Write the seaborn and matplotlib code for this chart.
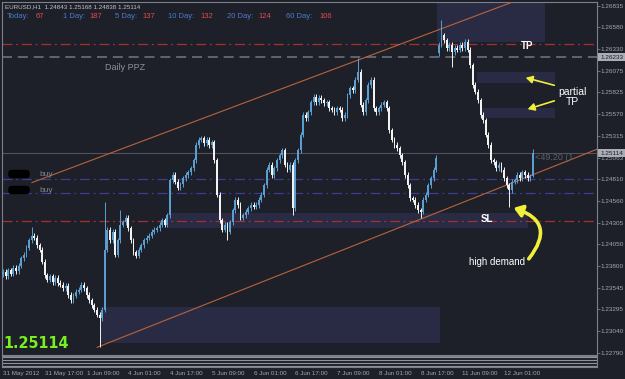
import numpy as np
import pandas as pd
import matplotlib
matplotlib.use('Agg')
import matplotlib.pyplot as plt
from matplotlib.patches import Rectangle, FancyArrowPatch
import seaborn as sns

# ---------------- data (EURUSD H1) ----------------
closes = [
    1.2373, 1.2368, 1.2375, 1.2371, 1.2378, 1.2374, 1.2380, 1.2389, 1.2393, 1.2401,
    1.2410, 1.2415, 1.2413, 1.2404, 1.2399, 1.2385, 1.2369, 1.2364, 1.2368, 1.2361,
    1.2366, 1.2360, 1.2358, 1.2354, 1.2357, 1.2346, 1.2340, 1.2345, 1.2350, 1.2352,
    1.2358, 1.2354, 1.2346, 1.2340, 1.2334, 1.2329, 1.2323, 1.2319, 1.2329, 1.2399,
    1.2422, 1.2410, 1.2420, 1.2393, 1.2410, 1.2428, 1.2431, 1.2436, 1.2424, 1.2410,
    1.2396, 1.2392, 1.2399, 1.2404, 1.2410, 1.2413, 1.2415, 1.2420, 1.2422, 1.2424,
    1.2428, 1.2433, 1.2428, 1.2439, 1.2480, 1.2486, 1.2478, 1.2471, 1.2475, 1.2482,
    1.2486, 1.2489, 1.2494, 1.2503, 1.2521, 1.2527, 1.2529, 1.2523, 1.2527, 1.2521,
    1.2524, 1.2503, 1.2463, 1.2433, 1.2422, 1.2428, 1.2420, 1.2431, 1.2445, 1.2457,
    1.2451, 1.2436, 1.2439, 1.2443, 1.2447, 1.2451, 1.2449, 1.2451, 1.2457, 1.2463,
    1.2474, 1.2492, 1.2498, 1.2486, 1.2494, 1.2503, 1.2509, 1.2515, 1.2498, 1.2492,
    1.2498, 1.2447, 1.2503, 1.2515, 1.2533, 1.2556, 1.2552, 1.2559, 1.2571, 1.2577,
    1.2571, 1.2576, 1.2573, 1.2570, 1.2571, 1.2564, 1.2562, 1.2559, 1.2564, 1.2562,
    1.2552, 1.2556, 1.2579, 1.2587, 1.2585, 1.2597, 1.2606, 1.2568, 1.2559, 1.2573,
    1.2591, 1.2597, 1.2564, 1.2559, 1.2564, 1.2568, 1.2571, 1.2564, 1.2538, 1.2527,
    1.2521, 1.2517, 1.2509, 1.2501, 1.2486, 1.2474, 1.2459, 1.2457, 1.2451, 1.2445,
    1.2443, 1.2457, 1.2463, 1.2474, 1.2482, 1.2492, 1.2506, 1.2638, 1.2649, 1.2643,
    1.2634, 1.2638, 1.2629, 1.2634, 1.2632, 1.2638, 1.2634, 1.2641, 1.2632, 1.2614,
    1.2591, 1.2583, 1.2573, 1.2556, 1.2550, 1.2533, 1.2521, 1.2503, 1.2501, 1.2494,
    1.2498, 1.2492, 1.2482, 1.2474, 1.2468, 1.2478, 1.2480, 1.2486, 1.2482, 1.2489,
    1.2486, 1.2482, 1.24843, 1.25114,
]
first_open = 1.2370

# bars that opened with a gap (Monday open after the weekend)
gap_bars = [167]
gap_opens = [1.2628]

# long wicks that stand out
high_bars = [11, 39, 45, 136, 168, 203]
high_vals = [1.2425, 1.2455, 1.2445, 1.2622, 1.2667, 1.25168]
low_bars = [37, 86, 111, 160, 172, 194, 203]
low_vals = [1.2285, 1.2410, 1.2439, 1.2436, 1.2612, 1.2449, 1.24838]

# levels drawn on the chart
tp_level = 1.26387
ppz_level = 1.26233
buy_levels = [1.24813, 1.24650]
sl_level = 1.24320
last_price = 1.25114

# zones: (first bar, last bar, low price, high price)
zone_bar0 = [166.3, 181.6, 182.8, 62.8, 37.2]
zone_bar1 = [207.7, 211.5, 211.5, 201.1, 167.4]
zone_low = [1.2641, 1.2593, 1.2552, 1.2424, 1.2290]
zone_high = [1.2687, 1.2606, 1.2564, 1.2442, 1.2332]

# channel
upper_bars = [11.0, 227.0]
upper_prices = [1.2477, 1.2724]
lower_bars = [36.0, 227.6]
lower_prices = [1.2285, 1.2516]

price_ticks = [1.26835, 1.26580, 1.26330, 1.26075, 1.25825, 1.25570, 1.25315,
               1.25063, 1.24810, 1.24560, 1.24305, 1.24050, 1.23800, 1.23545,
               1.23295, 1.23040, 1.22790]
time_labels = ['31 May 2012', '31 May 17:00', '1 Jun 09:00', '4 Jun 01:00',
               '4 Jun 17:00', '5 Jun 09:00', '6 Jun 01:00', '6 Jun 17:00',
               '7 Jun 09:00', '8 Jun 01:00', '8 Jun 17:00', '11 Jun 09:00',
               '12 Jun 01:00']
time_label_bars = list(range(0, 16 * len(time_labels), 16))

range_names = ['Today:', '1 Day:', '5 Day:', '10 Day:', '20 Day:', '60 Day:']
range_values = [67, 187, 137, 132, 124, 106]

# ---------------- style ----------------
BG = '#1d1f29'
GREY = '#a4a8b0'
sns.set_theme(style='dark', rc={'axes.facecolor': BG, 'figure.facecolor': BG,
                                'axes.edgecolor': '#7c8088', 'text.color': GREY})
plt.rcParams['font.family'] = ['Liberation Sans', 'DejaVu Sans']

W, H = 625, 379


def fp(x, y):
    return x / W, 1 - y / H


fig = plt.figure(figsize=(6.25, 3.79), dpi=100)
ax = fig.add_axes([2 / W, 24 / H, 595 / W, 353 / H])
sub = fig.add_axes([2 / W, 12 / H, 595 / W, 11 / H])

df = pd.DataFrame({'close': closes})
df['bar'] = np.arange(len(df))
df['open'] = [first_open] + closes[:-1]
df.loc[gap_bars, 'open'] = gap_opens
df['top'] = df[['open', 'close']].max(axis=1)
df['bot'] = df[['open', 'close']].min(axis=1)
df['high'] = df['top'] + 0.0003
df['low'] = df['bot'] - 0.0003
df.loc[high_bars, 'high'] = high_vals
df.loc[low_bars, 'low'] = low_vals
df['bull'] = df['close'] >= df['open']
colors = np.where(df['bull'], '#5b9fd0', '#f2f2f2')

# zones
for b0, b1, lo, hi in zip(zone_bar0, zone_bar1, zone_low, zone_high):
    ax.add_patch(Rectangle((b0, lo), b1 - b0, hi - lo, facecolor='#292b44',
                           edgecolor='none', zorder=1))

# levels
ax.axhline(tp_level, color='#a8302c', lw=0.9, ls=(0, (8, 3, 1.5, 3)), zorder=2)
ax.axhline(sl_level, color='#a8302c', lw=0.9, ls=(0, (8, 3, 1.5, 3)), zorder=2)
ax.axhline(ppz_level, color='#6c7079', lw=1.2, ls=(0, (6, 3.5)), zorder=2)
for lv in buy_levels:
    ax.axhline(lv, color='#3e3e90', lw=0.9, ls=(0, (8, 3, 1.5, 3)), zorder=2)
ax.axhline(last_price, color='#50535d', lw=0.8, zorder=2)

# channel
sns.lineplot(x=upper_bars, y=upper_prices, ax=ax, color='#b8643a', lw=0.8, zorder=3)
sns.lineplot(x=lower_bars, y=lower_prices, ax=ax, color='#b8643a', lw=0.8, zorder=3)

# candles
ax.vlines(df['bar'], df['low'], df['high'], colors=colors, lw=0.7, zorder=4)
heights = np.maximum(df['top'] - df['bot'], 0.00004)
ax.bar(df['bar'], heights, bottom=df['bot'], width=0.72, color=colors,
       linewidth=0, zorder=5)

ax.set_xlim(-0.38, 227.6)
ax.set_ylim(1.22761, 1.26877)
ax.set_xticks([])
ax.yaxis.tick_right()
ax.set_yticks(price_ticks)
ax.set_yticklabels([f'{p:.5f}' for p in price_ticks])
ax.tick_params(axis='y', direction='out', length=2.5, width=0.6, pad=0.3,
               labelsize=4.6, colors='#7c8088', labelcolor=GREY)
for s in ax.spines.values():
    s.set_color('#7c8088')
    s.set_linewidth(0.8)

# highlighted price boxes on the axis
for p in [ppz_level, last_price]:
    ax.annotate(f'{p:.5f}', xy=(1, p), xycoords=('axes fraction', 'data'),
                xytext=(2.2, 0), textcoords='offset points', va='center',
                ha='left', fontsize=4.6, color='#1d1f29', zorder=10,
                annotation_clip=False,
                bbox=dict(boxstyle='square,pad=0.25', fc='#a9adb5', ec='none'))

# bottom strip window
sub.set_xlim(-0.38, 227.6)
sub.set_ylim(0, 11)
for yy in [1, 4.5, 7.5, 10.5]:
    sub.axhline(yy, color='#8f939b', lw=0.8)
sub.set_yticks([])
sub.set_xticks(time_label_bars)
sub.set_xticklabels(time_labels, ha='left')
sub.tick_params(axis='x', direction='out', length=2.5, width=0.6, pad=0.5,
                labelsize=4.5, colors='#7c8088', labelcolor=GREY)
for s in sub.spines.values():
    s.set_color('#7c8088')
    s.set_linewidth(0.8)

# header texts
fig.text(*fp(5, 7), 'EURUSD,H1  1.24843 1.25168 1.24838 1.25114', fontsize=4.5,
         color='#c4c4c8', va='center')
name_x = [7, 63, 115, 168, 227, 286]
value_x = [36, 89, 142, 200, 258, 319]
for nm, vl, nx, vx in zip(range_names, range_values, name_x, value_x):
    fig.text(*fp(nx, 16), nm, fontsize=5.5, color='#4d7ccc', va='center')
    fig.text(*fp(vx, 16), str(vl), fontsize=5.5, color='#e04c4c', va='center')

fig.text(*fp(105, 68), 'Daily PPZ', fontsize=6.5, color='#8d919a', va='center')
fig.text(*fp(527, 46), 'TP', fontsize=7, color='white', weight='bold',
         ha='center', va='center')
fig.text(*fp(572, 97), 'partial\nTP', fontsize=7.5, color='white',
         ha='center', va='center', linespacing=0.95)
fig.text(*fp(487, 219), 'SL', fontsize=7, color='white', weight='bold',
         ha='center', va='center')
fig.text(*fp(497, 262), 'high demand', fontsize=7, color='white',
         ha='center', va='center')
fig.text(*fp(535, 158), '<49.20 (1', fontsize=6.5, color='#5c6068', va='center')
fig.text(*fp(3, 343), f'{last_price:.5f}', fontsize=11.5, color='#78f01e',
         weight='bold', fontstretch='condensed', va='center',
         family=['DejaVu Sans'])

for yy in [174, 190]:
    fig.text(*fp(9, yy), '          ', fontsize=5, va='center',
             bbox=dict(boxstyle='round,pad=0.1,rounding_size=0.5', fc='black', ec='none'))
    fig.text(*fp(39, yy), 'buy', fontsize=6, color='#80848c', va='center')

# yellow arrows
yel = '#f2ef3a'
fig.add_artist(FancyArrowPatch(
    fp(557, 86), fp(523, 77), transform=fig.transFigure,
    arrowstyle='-|>,head_length=4,head_width=2.2', color=yel, lw=1.2))
fig.add_artist(FancyArrowPatch(
    fp(557, 100), fp(525, 110), transform=fig.transFigure,
    arrowstyle='-|>,head_length=4,head_width=2.2', color=yel, lw=1.2))
fig.add_artist(FancyArrowPatch(
    fp(527, 261), fp(511, 207), transform=fig.transFigure,
    connectionstyle='arc3,rad=0.75', arrowstyle='-|>,head_length=5,head_width=3.5',
    color=yel, lw=2.6))

fig.savefig('out.png', dpi=100, facecolor=BG)
